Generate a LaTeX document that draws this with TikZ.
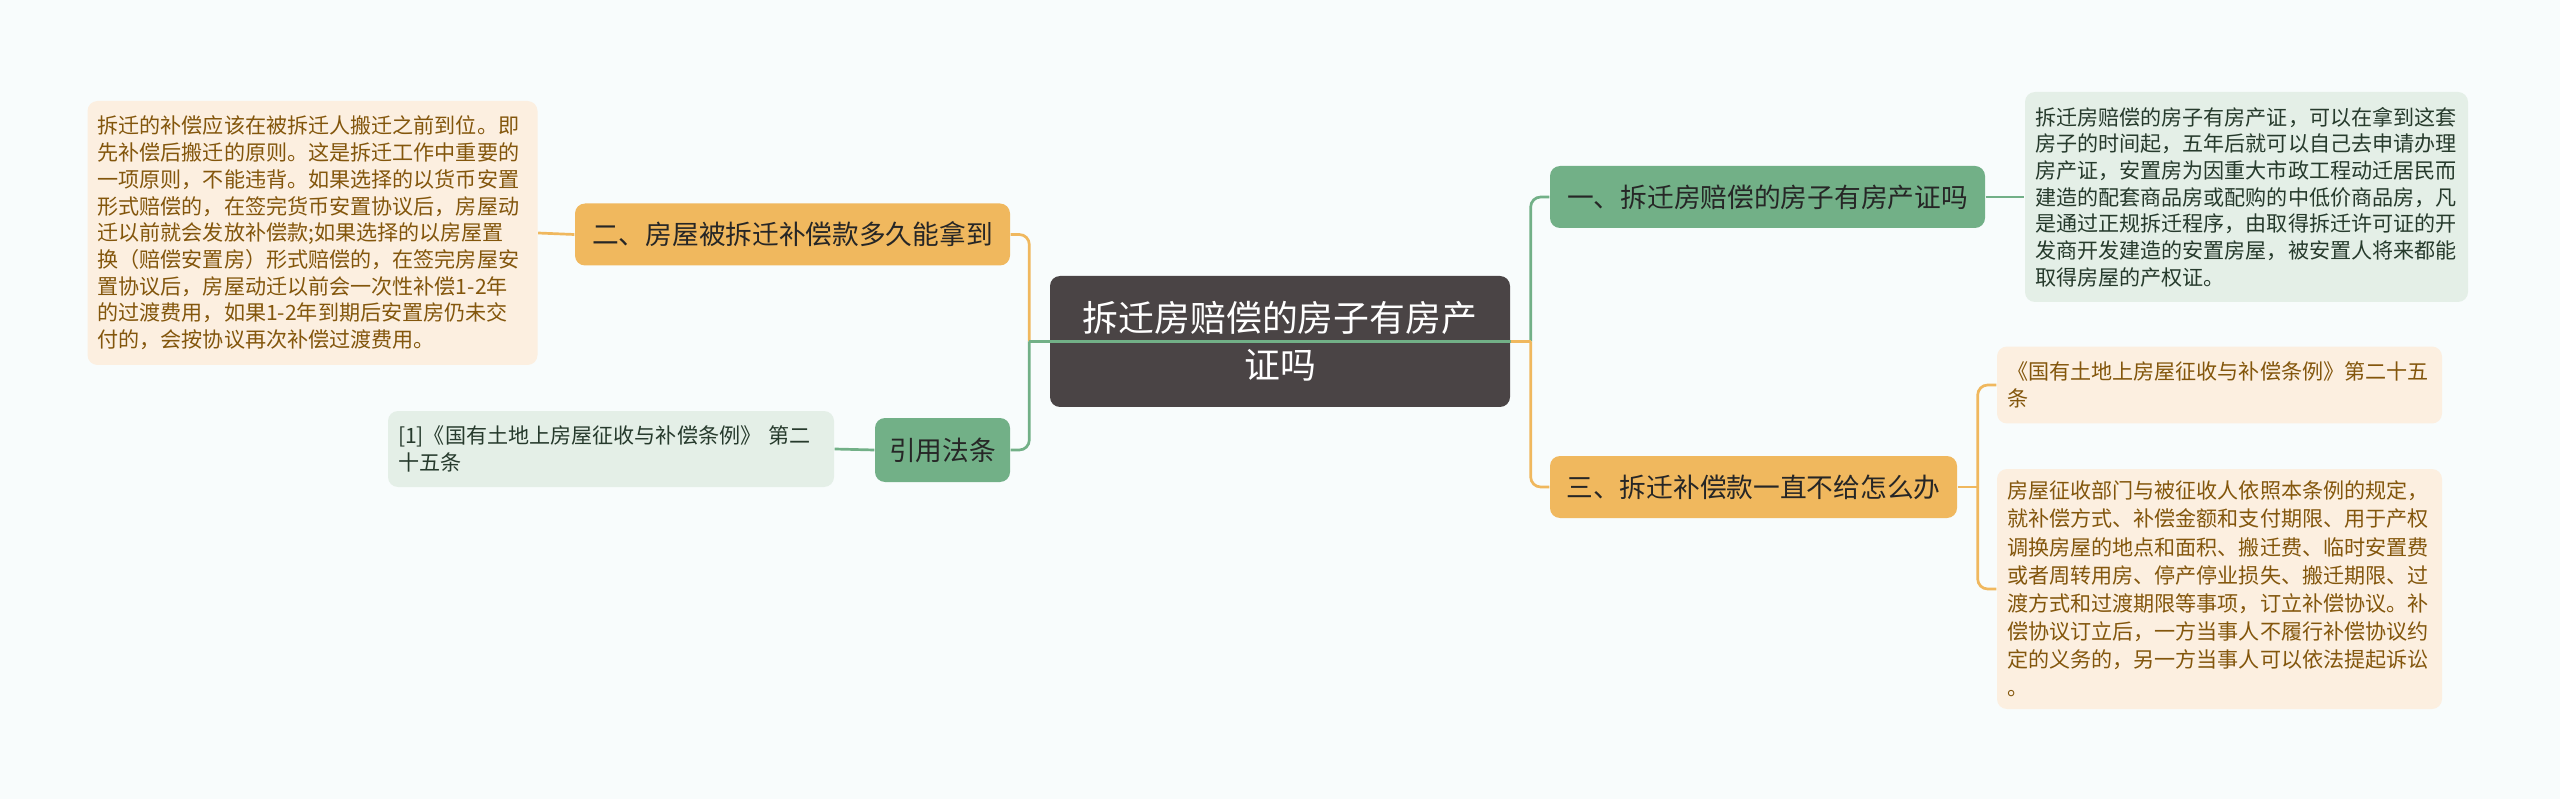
\documentclass[tikz,border=0pt]{standalone}
\usepackage{fontspec}
\setmainfont{Noto Sans CJK SC}
\usetikzlibrary{positioning}
\definecolor{bgc}{HTML}{F8FCFC}
\definecolor{rootc}{HTML}{4A4445}
\definecolor{grn}{HTML}{72B087}
\definecolor{org}{HTML}{F0B85E}
\definecolor{lgrn}{HTML}{E4EFE7}
\definecolor{lorg}{HTML}{FCEFE0}
\definecolor{gtxt}{HTML}{263A2C}
\definecolor{otxt}{HTML}{83560C}

\begin{document}
\begin{tikzpicture}[x=0.1mm,y=-0.1mm,
 root/.style={fill=rootc,text=white,rounded corners=1mm,align=center,text width=44mm,
 inner xsep=1mm,minimum height=13.1mm,font=\fontsize{10.2pt}{13.4pt}\selectfont},
 topic/.style={rounded corners=1mm,minimum height=6.2mm,text=black!85,
 font=\fontsize{7.6pt}{9pt}\selectfont},
 gtopic/.style={topic,fill=grn},otopic/.style={topic,fill=org},
 leaf/.style={rounded corners=1mm,align=left,inner xsep=1mm,
 font=\fontsize{6pt}{7.6pt}\selectfont},
 gleaf/.style={leaf,fill=lgrn,text=gtxt},oleaf/.style={leaf,fill=lorg,text=otxt},
 gline/.style={draw=grn,line width=0.27mm},oline/.style={draw=org,line width=0.27mm}]
\fill[bgc] (0,0) rectangle (2560,799);
\node[root] (c) at (1280,341.5) {拆迁房赔偿的房子有房产\\证吗};
% right side
\node[gtopic,minimum width=43.5mm] (b1) at (1767.5,197) {一、拆迁房赔偿的房子有房产证吗};
\node[otopic,minimum width=40.7mm] (b3) at (1753.5,487) {三、拆迁补偿款一直不给怎么办};
\node[gleaf,text width=42.3mm,minimum height=21mm] (r1) at (2246.5,197) {拆迁房赔偿的房子有房产证，可以在拿到这套\\房子的时间起，五年后就可以自己去申请办理\\房产证，安置房为因重大市政工程动迁居民而\\建造的配套商品房或配购的中低价商品房，凡\\是通过正规拆迁程序，由取得拆迁许可证的开\\发商开发建造的安置房屋，被安置人将来都能\\取得房屋的产权证。};
\node[oleaf,text width=42.5mm,minimum height=7.7mm] (r2) at (2219.5,385) {《国有土地上房屋征收与补偿条例》第二十五\\条};
\node[oleaf,text width=42.5mm,minimum height=24mm,font=\fontsize{6pt}{8pt}\selectfont] (r3) at (2219.5,589) {房屋征收部门与被征收人依照本条例的规定，\\就补偿方式、补偿金额和支付期限、用于产权\\调换房屋的地点和面积、搬迁费、临时安置费\\或者周转用房、停产停业损失、搬迁期限、过\\渡方式和过渡期限等事项，订立补偿协议。补\\偿协议订立后，一方当事人不履行补偿协议约\\定的义务的，另一方当事人可以依法提起诉讼\\。};
% left side
\node[otopic,minimum width=43.5mm] (b2) at (792.5,234.5) {二、房屋被拆迁补偿款多久能拿到};
\node[gtopic,minimum width=13.5mm,minimum height=6.4mm] (b4) at (942.5,450) {引用法条};
\node[oleaf,text width=43mm,minimum height=26.4mm] (l1) at (312.5,233) {拆迁的补偿应该在被拆迁人搬迁之前到位。即\\先补偿后搬迁的原则。这是拆迁工作中重要的\\一项原则，不能违背。如果选择的以货币安置\\形式赔偿的，在签完货币安置协议后，房屋动\\迁以前就会发放补偿款;如果选择的以房屋置\\换（赔偿安置房）形式赔偿的，在签完房屋安\\置协议后，房屋动迁以前会一次性补偿1-2年\\的过渡费用，如果1-2年到期后安置房仍未交\\付的，会按协议再次补偿过渡费用。};
\node[gleaf,text width=42.6mm,minimum height=7.6mm] (l2) at (611,449) {[1]《国有土地上房屋征收与补偿条例》 第二\\十五条};
% connectors
\coordinate (rj) at ([xshift=2mm]c.east);
\coordinate (lj) at ([xshift=-2mm]c.west);
\coordinate (sj) at ([xshift=2mm]b3.east);
\draw[oline] (c.west) -- (lj);
\draw[oline,rounded corners=1mm] (lj) |- (b2.east);
\draw[gline] (c.east) -- (lj);
\draw[gline,rounded corners=1mm] (lj) |- (b4.east);
\draw[gline,rounded corners=1mm] (rj) |- (b1.west);
\draw[oline] (c.east) -- (rj);
\draw[oline,rounded corners=1mm] (rj) |- (b3.west);
\draw[gline] (b1.east) -- (r1.west);
\draw[oline] (b3.east) -- (sj);
\draw[oline,rounded corners=1mm] (sj) |- (r2.west);
\draw[oline,rounded corners=1mm] (sj) |- (r3.west);
\draw[oline] (b2.west) -- (l1.east);
\draw[gline] (b4.west) -- (l2.east);
\end{tikzpicture}
\end{document}
